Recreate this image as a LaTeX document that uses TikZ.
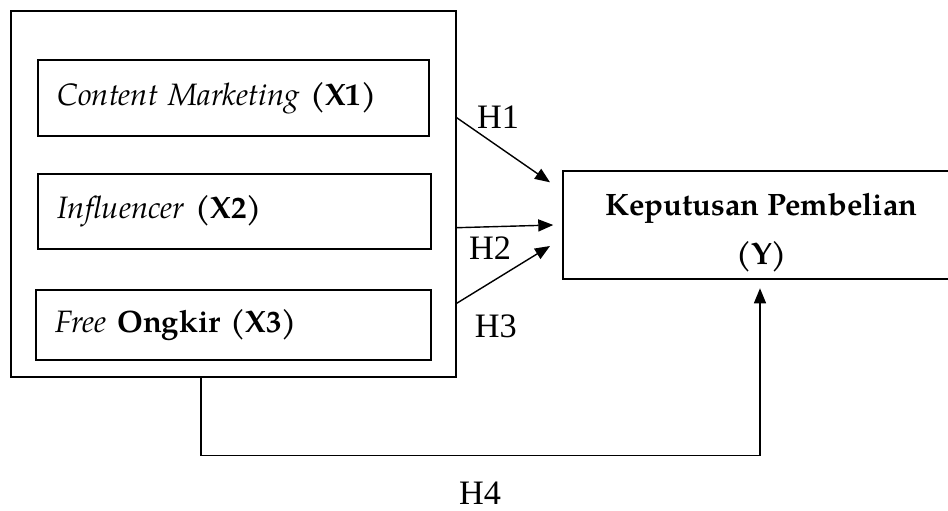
\documentclass[tikz,border=0pt]{standalone}
\usepackage{fontspec}
\setmainfont{TeX Gyre Pagella}
\newfontfamily\hypfamily{Liberation Serif}
\usetikzlibrary{arrows.meta}
\newcommand{\palafont}{\fontsize{17.6}{21}\selectfont}
\newcommand{\hypfont}{\hypfamily\fontsize{19.5}{22}\selectfont}
\tikzset{
  varbox/.style={draw, line width=0.75pt, align=left, inner xsep=0.39cm,
    font=\palafont},
  hlabel/.style={font=\hypfont, inner sep=0pt},
  hyp/.style={line width=0.8pt, -{Triangle[length=0.3cm,width=0.24cm]}}
}
\begin{document}
\begin{tikzpicture}[x=0.02cm, y=-0.02cm]
  \useasboundingbox (0,0) rectangle (948,511);
  \draw
    (233.5,194) node[draw, line width=0.75pt, minimum width=8.9cm, minimum height=7.32cm] (outer){}
    (233.5,98) node[varbox, text width=7.04cm, minimum height=1.52cm] (x1){\textit{Content Marketing}\textbf{ (X1)}}
    (234.5,211.5) node[varbox, text width=7.08cm, minimum height=1.5cm] (x2){\textit{Influencer}\textbf{ (X2)}}
    (233.5,325) node[varbox, text width=7.12cm, minimum height=1.4cm] (x3){\textit{Free} \textbf{Ongkir (X3)}}
    (761.5,225) node[draw, line width=0.75pt, minimum width=7.94cm, minimum height=2.16cm] (y){};
  \node[font=\palafont\bfseries, align=center] (ytext) at (761.5,233)
    {Keputusan Pembelian\\[7pt](Y)};
  % ends of the hypothesis arrows
  \coordinate (a1) at (456.7,117.7);
  \coordinate (b1) at (550,182.3);
  \coordinate (a2) at (456.7,227.7);
  \coordinate (b2) at (553.3,225);
  \coordinate (a3) at (456.7,303.3);
  \coordinate (b3) at (550,246);
  \coordinate (a4) at (201,376.7);
  \coordinate (b4) at (760,288.3);
  \begin{scope}[hyp]
    \draw (a1) to (b1);
    \draw (a2) to (b2);
    \draw (a3) to (b3);
    \draw (a4) |- (760,455.7) -- (b4);
  \end{scope}
  \node[hlabel] (h1) at (498,116.7) {H1};
  \node[hlabel] (h2) at (490,248) {H2};
  \node[hlabel] (h3) at (495.7,326.7) {H3};
  \node[hlabel] (h4) at (480,493) {H4};
\end{tikzpicture}
\end{document}
